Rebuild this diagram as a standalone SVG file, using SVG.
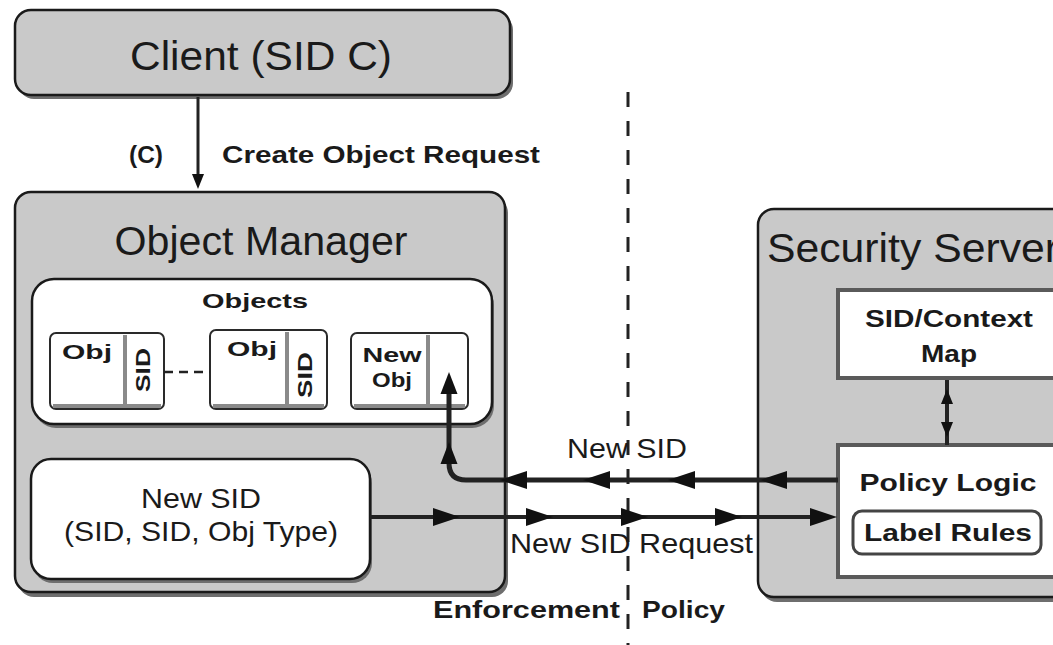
<svg xmlns="http://www.w3.org/2000/svg" width="1053" height="645" viewBox="0 0 1053 645">
<style>
  .bg { fill: #ffffff; }
  .graybox { fill: #c9c9c9; stroke: #1a1a1a; stroke-width: 2.5; }
  .whitebox { fill: #ffffff; stroke: #1a1a1a; stroke-width: 2.5; }
  .sqbox { fill: #ffffff; stroke: #5a5a5a; stroke-width: 4; }
  .objbox { fill: #ffffff; stroke: #2a2a2a; stroke-width: 2; }
  .shadow { fill: #6e6e6e; }
  .div { stroke: #8a8a8a; stroke-width: 4; }
  .objbottom { stroke: #8a8a8a; stroke-width: 4; }
  .big { font-family: "Liberation Sans", Arial, sans-serif; font-size: 40px; fill: #1a1a1a; }
  .mid { font-family: "Liberation Sans", Arial, sans-serif; font-size: 28px; fill: #1a1a1a; }
  .lbl { font-family: "Liberation Sans", Arial, sans-serif; font-size: 24px; font-weight: bold; fill: #1a1a1a; }
  .sml { font-family: "Liberation Sans", Arial, sans-serif; font-size: 21px; font-weight: bold; fill: #1a1a1a; }
  .line { stroke: #222222; fill: none; }
  .head { fill: #111111; }
</style>
<defs>
  <path id="ah" d="M0,0 L-27,-9 L-27,9 Z"/>
  <path id="ahm" d="M0,0 L-22,-8.5 L-22,8.5 Z"/>
  <path id="ahs" d="M0,0 L-15,-6 L-15,6 Z"/>
</defs>
<rect class="bg" x="0" y="0" width="1053" height="645"/>

<g id="client">
  <rect class="shadow" x="18" y="14" width="495" height="85" rx="16"/>
  <rect class="graybox" x="15" y="10" width="495" height="85" rx="16"/>
  <text class="big" x="261" y="70" text-anchor="middle" textLength="262" lengthAdjust="spacingAndGlyphs">Client (SID C)</text>
</g>

<g id="object-manager">
  <rect class="shadow" x="18" y="197" width="490" height="400" rx="16"/>
  <rect class="graybox" x="15" y="192" width="490" height="400" rx="16"/>
  <text class="big" x="261" y="255" text-anchor="middle" textLength="293" lengthAdjust="spacingAndGlyphs">Object Manager</text>
</g>

<g id="objects">
  <rect class="shadow" x="34" y="283" width="460" height="145" rx="22"/>
  <rect class="whitebox" x="32" y="279" width="460" height="145" rx="22"/>
  <text class="sml" x="255" y="308" text-anchor="middle" textLength="106" lengthAdjust="spacingAndGlyphs">Objects</text>
</g>

<g id="obj1">
  <rect class="objbox" x="50" y="333" width="114" height="76" rx="6"/>
  <line class="objbottom" x1="53" y1="406" x2="161" y2="406"/>
  <line class="div" x1="125" y1="335" x2="125" y2="405"/>
  <text class="sml" x="87" y="359" text-anchor="middle" textLength="50" lengthAdjust="spacingAndGlyphs">Obj</text>
  <text class="sml" x="0" y="0" text-anchor="middle" font-size="18" transform="translate(150,370) rotate(-90)" textLength="44" lengthAdjust="spacingAndGlyphs">SID</text>
</g>

<g id="obj2">
  <rect class="objbox" x="210" y="330" width="117" height="79" rx="6"/>
  <line class="objbottom" x1="213" y1="406" x2="324" y2="406"/>
  <line class="div" x1="287" y1="332" x2="287" y2="405"/>
  <text class="sml" x="252" y="356" text-anchor="middle" textLength="50" lengthAdjust="spacingAndGlyphs">Obj</text>
  <text class="sml" x="0" y="0" text-anchor="middle" font-size="18" transform="translate(312,375) rotate(-90)" textLength="46" lengthAdjust="spacingAndGlyphs">SID</text>
</g>

<g id="new-obj">
  <rect class="objbox" x="351" y="333" width="117" height="76" rx="6"/>
  <line class="objbottom" x1="354" y1="406" x2="465" y2="406"/>
  <line class="div" x1="428" y1="335" x2="428" y2="405"/>
  <text class="sml" x="392" y="362" text-anchor="middle" textLength="59" lengthAdjust="spacingAndGlyphs">New</text>
  <text class="sml" x="392" y="387" text-anchor="middle" textLength="40" lengthAdjust="spacingAndGlyphs">Obj</text>
</g>

<g id="new-sid">
  <rect class="shadow" x="33" y="463" width="339" height="120" rx="20"/>
  <rect class="whitebox" x="31" y="459" width="339" height="120" rx="20"/>
  <text class="mid" x="201" y="508" text-anchor="middle" textLength="120" lengthAdjust="spacingAndGlyphs">New SID</text>
  <text class="mid" x="201" y="541" text-anchor="middle" textLength="274" lengthAdjust="spacingAndGlyphs">(SID, SID, Obj Type)</text>
</g>

<g id="security-server">
  <rect class="shadow" x="761" y="214" width="320" height="388" rx="16"/>
  <rect class="graybox" x="758" y="209" width="320" height="388" rx="16"/>
  <text class="big" x="767" y="262" textLength="292" lengthAdjust="spacingAndGlyphs">Security Server</text>
</g>

<g id="sid-context-map">
  <rect class="sqbox" x="838" y="290" width="240" height="88"/>
  <text class="lbl" x="949" y="327" text-anchor="middle" textLength="168" lengthAdjust="spacingAndGlyphs">SID/Context</text>
  <text class="lbl" x="949" y="362" text-anchor="middle" textLength="56" lengthAdjust="spacingAndGlyphs">Map</text>
</g>

<g id="policy-logic">
  <rect class="sqbox" x="838" y="445" width="240" height="132"/>
  <text class="lbl" x="948" y="491" text-anchor="middle" textLength="177" lengthAdjust="spacingAndGlyphs">Policy Logic</text>
</g>

<g id="label-rules">
  <rect x="853" y="511" width="188" height="43" rx="9" fill="#ffffff" stroke="#444444" stroke-width="3"/>
  <text class="lbl" x="948" y="541" text-anchor="middle" textLength="168" lengthAdjust="spacingAndGlyphs">Label Rules</text>
</g>

<g id="connectors">
  <!-- client to object manager -->
  <line class="line" x1="198" y1="97" x2="198" y2="178" stroke-width="3"/>
  <use href="#ahs" class="head" transform="translate(198,189) rotate(90)"/>
  <text class="lbl" x="146" y="163" text-anchor="middle" textLength="34" lengthAdjust="spacingAndGlyphs">(C)</text>
  <text class="lbl" x="222" y="163" textLength="318" lengthAdjust="spacingAndGlyphs">Create Object Request</text>

  <!-- dashed link between objects -->
  <line class="line" x1="164" y1="372" x2="210" y2="372" stroke-width="2.5" stroke-dasharray="9 6"/>

  <!-- enforcement/policy boundary -->
  <line class="line" x1="628" y1="92" x2="628" y2="645" stroke="#111111" stroke-width="3" stroke-dasharray="15 14"/>

  <!-- new SID request -->
  <line class="line" x1="370" y1="517" x2="830" y2="517" stroke-width="4"/>
  <use href="#ah" class="head" transform="translate(460,517)"/>
  <use href="#ah" class="head" transform="translate(553,517)"/>
  <use href="#ah" class="head" transform="translate(648,517)"/>
  <use href="#ah" class="head" transform="translate(742,517)"/>
  <use href="#ah" class="head" transform="translate(837,517)"/>
  <text class="mid" x="510" y="553" textLength="243" lengthAdjust="spacingAndGlyphs">New SID Request</text>

  <!-- new SID return -->
  <path class="line" d="M838,480 L466,480 Q449,480 449,463 L449,385" stroke-width="5"/>
  <use href="#ah" class="head" transform="translate(760,480) rotate(180)"/>
  <use href="#ah" class="head" transform="translate(668,480) rotate(180)"/>
  <use href="#ah" class="head" transform="translate(583,480) rotate(180)"/>
  <use href="#ah" class="head" transform="translate(500,480) rotate(180)"/>
  <use href="#ahm" class="head" transform="translate(449,442) rotate(-90)"/>
  <use href="#ahm" class="head" transform="translate(449,372) rotate(-90)"/>
  <text class="mid" x="567" y="458" textLength="120" lengthAdjust="spacingAndGlyphs">New SID</text>

  <!-- context map <-> policy logic -->
  <line class="line" x1="947" y1="380" x2="947" y2="445" stroke-width="4"/>
  <use href="#ahs" class="head" transform="translate(947,389) rotate(-90)"/>
  <use href="#ahs" class="head" transform="translate(947,437) rotate(90)"/>

  <text class="lbl" x="620" y="618" text-anchor="end" textLength="187" lengthAdjust="spacingAndGlyphs">Enforcement</text>
  <text class="lbl" x="642" y="618" textLength="83" lengthAdjust="spacingAndGlyphs">Policy</text>
</g>
</svg>
